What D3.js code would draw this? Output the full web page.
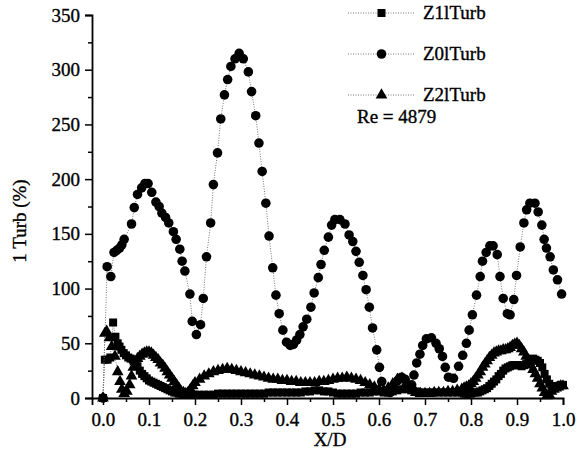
<!DOCTYPE html>
<html><head><meta charset="utf-8">
<script src="https://cdn.jsdelivr.net/npm/d3@7"></script>
<style>
html,body{margin:0;padding:0;background:#fff;}
svg text{font-family:"Liberation Serif","Times New Roman",serif;fill:#000;stroke:#000;stroke-width:0.35px;}
</style></head>
<body><svg id="chart" width="578" height="460"></svg>
<script>
// ---------- data ----------
const xTicks = [0.0,0.1,0.2,0.3,0.4,0.5,0.6,0.7,0.8,0.9,1.0];
const yTicks = [0,50,100,150,200,250,300,350];
const seriesNames = ["Z1lTurb","Z0lTurb","Z2lTurb"];
const noteText = "Re = 4879";
const xLabel = "X/D";
const yLabel = "1 Turb (%)";

// Z0lTurb (circles)
const z0X = [0,0.009,0.017,0.024,0.030,0.036,0.041,0.046,0.062,0.068,
 0.075,0.084,0.091,0.098,0.106,0.115,0.122,0.128,0.136,0.143,
 0.153,0.159,0.167,0.172,0.178,0.189,0.194,0.203,0.212,0.218,
 0.225,0.234,0.240,0.249,0.256,0.264,0.271,0.278,0.287,0.296,
 0.305,0.316,0.323,0.332,0.339,0.346,0.354,0.361,0.369,0.376,
 0.383,0.391,0.399,0.407,0.414,0.421,0.428,0.435,0.443,0.452,
 0.459,0.468,0.474,0.481,0.490,0.497,0.504,0.515,0.526,0.535,
 0.543,0.550,0.557,0.565,0.572,0.579,0.586,0.595,0.601,0.606,
 0.614,0.624,0.633,0.641,0.649,0.657,0.664,0.671,0.676,0.682,
 0.689,0.695,0.703,0.714,0.724,0.731,0.738,0.744,0.751,0.762,
 0.773,0.782,0.790,0.796,0.803,0.812,0.820,0.825,0.833,0.841,
 0.848,0.857,0.863,0.870,0.879,0.885,0.893,0.899,0.907,0.915,
 0.921,0.928,0.939,0.946,0.954,0.959,0.964,0.972,0.979,0.988,0.997];
const z0Y = [0,120,111,133,135,137,140,145,159,174,
 186,192,196,196,188,179,175,169,165,160,
 152,145,136,125,116,95,70,58,67,91,
 129,160,195,224,255,277,291,303,310,315,
 310,298,280,258,233,207,178,148,119,94,
 77,62,51,48,49,53,58,65,72,83,
 96,110,122,135,147,158,163,163,159,149,
 143,134,124,112,99,83,64,44,28,15,
 6,5,9,16,19,17,11,12,21,32,
 40,48,54,55,50,45,38,28,19,18,
 29,39,50,62,76,94,111,125,133,139,
 139,131,111,91,77,76,90,112,138,160,
 172,178,178,170,158,145,137,129,117,108,95];

// Z1lTurb (squares)
const z1X = [0,0.004,0.010,0.016,0.022,0.027,0.032,0.036,0.040,0.045,
 0.050,0.055,0.060,0.065,0.070,0.075,0.080,0.085,0.090,0.095,
 0.100,0.105,0.110,0.115,0.120,0.125,0.130,0.135,0.140,0.145,
 0.150,0.155,0.160,0.165,0.170,0.175,0.180,0.185,0.190,0.195,0.200,
 0.21,0.22,0.23,0.24,0.25,0.26,0.27,0.28,0.29,0.30,
 0.31,0.32,0.33,0.34,0.35,0.36,0.37,0.38,0.39,0.40,
 0.41,0.42,0.43,0.44,0.45,0.46,0.47,0.48,0.49,0.50,
 0.51,0.52,0.53,0.54,0.55,0.56,0.57,0.58,0.59,0.60,
 0.61,0.62,0.63,0.64,0.65,0.66,0.67,0.68,0.69,0.70,
 0.71,0.72,0.73,0.74,0.75,0.76,0.77,0.78,
 0.785,0.790,0.795,0.800,0.805,0.810,0.815,0.820,0.825,0.830,
 0.835,0.840,0.845,0.850,0.855,0.860,0.865,0.870,0.875,0.880,
 0.885,0.890,0.895,0.900,0.905,0.910,0.915,0.920,0.925,0.930,
 0.935,0.940,0.945,0.950,0.955,0.960,0.965,0.970,0.975,0.980,
 0.985,0.990,0.995,1.000];
const z1Y = [0,35,35,37,69,56,50,47,44,41,
 39,37,36,35,33,29,25,22,20,18,
 16,15,14,13,12,11,10,9,8,7,
 6,5,5,4,4,3,3,3,3,3,3,
 3,3,3,3,4,4,4,4,4,4,
 4,4,4,4,4,5,5,5,5,5,
 5,5,5,6,6,7,7,6,6,5,
 4,4,4,4,4,5,5,5,6,6,
 5,5,6,7,8,8,7,6,5,5,
 5,5,5,5,5,5,5,5,
 4,4,4,4,5,5,5,6,7,8,
 9,11,13,15,17,20,22,25,27,28,
 29,30,30,30,30,29,30,31,33,35,
 36,35,34,32,28,22,17,13,11,10,
 10,11,12,12];

// Z2lTurb (triangles)
const z2X = [0,0.004,0.008,0.014,0.019,0.026,0.032,0.037,0.041,0.046,
 0.052,0.058,0.062,0.066,0.070,0.075,0.080,0.085,0.090,0.095,
 0.100,0.105,0.110,0.115,0.120,0.125,0.130,0.135,0.140,0.145,
 0.150,0.155,0.160,0.165,0.170,0.175,0.180,0.185,0.190,0.195,0.200,
 0.21,0.22,0.23,0.24,0.25,0.26,0.27,0.28,0.29,0.30,
 0.31,0.32,0.33,0.34,0.35,0.36,0.37,0.38,0.39,0.40,
 0.41,0.42,0.43,0.44,0.45,0.46,0.47,0.48,0.49,0.50,
 0.51,0.52,0.53,0.54,0.55,0.56,0.57,0.58,0.59,0.60,
 0.61,0.62,0.63,0.64,0.65,0.66,0.67,0.68,0.69,0.70,
 0.71,0.72,0.73,0.74,0.75,0.76,0.77,0.78,
 0.785,0.790,0.795,0.800,0.805,0.810,0.815,0.820,0.825,0.830,
 0.835,0.840,0.845,0.850,0.855,0.860,0.865,0.870,0.875,0.880,
 0.885,0.890,0.895,0.900,0.905,0.910,0.915,0.920,0.925,0.930,
 0.935,0.940,0.945,0.950,0.955,0.960,0.965,0.970,0.975,0.980,
 0.985,0.990,0.995,1.000];
const z2Y = [0,59,61,55,47,38,24,15,8,4,
 6,12,20,28,33,36,38,40,41,42,
 42,41,39,37,35,32,30,27,24,21,
 18,15,12,9,6,5,4,5,8,11,14,
 17,20,22,24,25,26,27,26,25,24,
 23,22,21,20,19,18,17,17,16,16,
 15,15,14,14,14,14,15,15,16,17,
 18,18,19,18,17,16,14,12,10,8,
 7,9,13,17,18,14,8,5,4,4,
 4,5,5,5,6,6,7,8,
 9,10,11,13,15,18,21,24,28,31,
 34,37,39,41,42,43,43,44,44,45,
 46,48,49,50,48,45,42,38,34,30,
 26,22,18,13,9,5,2,3,6,8,
 9,10,11,11];

// ---------- chart ----------
const svg = d3.select("#chart");
const x = d3.scaleLinear().domain([-0.0239, 1.0]).range([92, 563]);
const y = d3.scaleLinear().domain([0, 350]).range([398, 15]);

const lineStyle = {stroke:"#666", width:0.9, dash:"1,1.5"};
const shapes = {
  Z1lTurb: d3.symbol().type(d3.symbolSquare).size(64),
  Z0lTurb: d3.symbol().type(d3.symbolCircle).size(72),
  Z2lTurb: d3.symbol().type(d3.symbolTriangle).size(60)
};

const series = [
  {name:"Z0lTurb", xs:z0X, ys:z0Y},
  {name:"Z1lTurb", xs:z1X, ys:z1Y},
  {name:"Z2lTurb", xs:z2X, ys:z2Y}
];

const line = d3.line().x(d=>x(d[0])).y(d=>y(d[1]));
series.forEach(s=>{
  const pts = s.xs.map((v,i)=>[v, s.ys[i]]);
  svg.append("path").attr("d", line(pts)).attr("fill","none")
    .attr("stroke", lineStyle.stroke).attr("stroke-width", lineStyle.width)
    .attr("stroke-dasharray", lineStyle.dash);
  svg.append("g").selectAll("path").data(pts).join("path")
    .attr("d", shapes[s.name]())
    .attr("transform", d=>`translate(${x(d[0])},${y(d[1])})`)
    .attr("fill","#000");
});

// axes
const fontSize = 19;
const yAxis = svg.append("g").attr("transform","translate(92,0)")
  .call(d3.axisLeft(y).tickValues(yTicks).tickFormat(d3.format("d")).tickSize(7).tickPadding(5));
const yMinor = svg.append("g").attr("transform","translate(92,0)")
  .call(d3.axisLeft(y).tickValues(d3.range(25,350,50)).tickFormat("").tickSize(4));
const xAxis = svg.append("g").attr("transform","translate(0,398)")
  .call(d3.axisBottom(x).tickValues(xTicks).tickFormat(d3.format(".1f")).tickSize(7).tickPadding(8));
const xMinor = svg.append("g").attr("transform","translate(0,398)")
  .call(d3.axisBottom(x).tickValues(d3.range(0.05,1.0,0.1)).tickFormat("").tickSize(4));
[yAxis,yMinor,xAxis,xMinor].forEach(g=>{
  g.selectAll("path.domain").attr("stroke","#000").attr("stroke-width",1.8);
  g.selectAll(".tick line").attr("stroke","#000").attr("stroke-width",1.5);
  g.selectAll("text").style("font-family",'"Liberation Serif",serif').style("font-size",fontSize+"px").attr("fill","#000");
});
xMinor.select("path.domain").remove();
yMinor.select("path.domain").remove();

// axis titles
svg.append("text").attr("x",330).attr("y",446).attr("text-anchor","middle")
  .style("font-size",fontSize+"px").text(xLabel);
svg.append("text").attr("transform","translate(26,221) rotate(-90)").attr("text-anchor","middle")
  .style("font-size",fontSize+"px").text(yLabel);

// legend
const legendY = [13, 54, 95];
seriesNames.forEach((n,i)=>{
  const ly = legendY[i];
  svg.append("line").attr("x1",348).attr("x2",415).attr("y1",ly).attr("y2",ly)
    .attr("stroke",lineStyle.stroke).attr("stroke-width",lineStyle.width).attr("stroke-dasharray",lineStyle.dash);
  svg.append("path").attr("d",shapes[n]()).attr("transform",`translate(381.5,${ly})`).attr("fill","#000");
  svg.append("text").attr("x",423).attr("y",ly+6).style("font-size",fontSize+"px").text(n);
});
svg.append("text").attr("x",357).attr("y",123).style("font-size",fontSize+"px").text(noteText);
</script>
</body></html>
